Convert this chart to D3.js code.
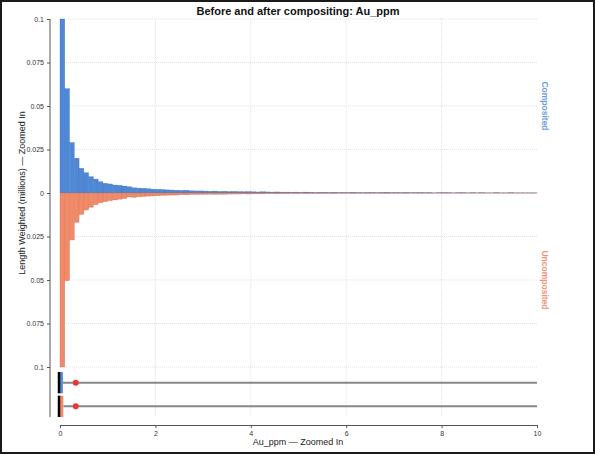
<!DOCTYPE html>
<html>
<head>
<meta charset="utf-8">
<script src="https://cdn.jsdelivr.net/npm/d3@7"></script>
<style>
body { margin: 0; background: #fff; }
text { font-family: "Liberation Sans", Arial, sans-serif; }
</style>
</head>
<body>
<svg width="595" height="454"></svg>
<script>
// bins are 0.1 wide from 0 to 10
var binStart = d3.range(0, 100).map(function(i) { return i / 10; });

var composited = [
	0.14, 0.060, 0.029, 0.020, 0.0142, 0.0117, 0.0094, 0.0080, 0.0065, 0.0056,
	0.0052, 0.0046, 0.0044, 0.0040, 0.0036, 0.0030, 0.0028, 0.0027, 0.0025, 0.0022,
	0.0021, 0.0020, 0.0018, 0.0017, 0.0016, 0.0015, 0.0016, 0.0013, 0.0012, 0.0012,
	0.0011, 0.0010, 0.0011, 0.0009, 0.0010, 0.0008, 0.0009, 0.0008, 0.0007, 0.0008,
	0.0007, 0.0006, 0.0007, 0.0006, 0.0005, 0.0006, 0.0005, 0.0005, 0.0004, 0.0005,
	0.0004, 0.0005, 0.0004, 0.0003, 0.0004, 0.0004, 0.0003, 0.0004, 0.0003, 0.0003,
	0.0003, 0.0004, 0.0003, 0.0002, 0.0003, 0.0003, 0.0002, 0.0003, 0.0004, 0.0002,
	0.0003, 0.0002, 0.0003, 0.0002, 0.0002, 0.0003, 0.0002, 0.0002, 0.0001, 0.0002,
	0.0002, 0.0002, 0.0001, 0.0002, 0.0002, 0.0001, 0.0002, 0.0001, 0.0002, 0.0001,
	0.0001, 0.0002, 0.0001, 0.0001, 0.0002, 0.0001, 0.0001, 0.0001, 0.0001, 0.0001
];

var uncomposited = [
	0.14, 0.0504, 0.027, 0.0169, 0.0123, 0.0098, 0.0082, 0.0067, 0.0056, 0.0050,
	0.0044, 0.0040, 0.0036, 0.0032, 0.0023, 0.0025, 0.0022, 0.0020, 0.0018, 0.0017,
	0.0016, 0.0014, 0.0013, 0.0012, 0.0012, 0.0010, 0.0011, 0.0009, 0.0009, 0.0008,
	0.0008, 0.0007, 0.0008, 0.0007, 0.0007, 0.0006, 0.0006, 0.0006, 0.0005, 0.0006,
	0.0005, 0.0005, 0.0005, 0.0004, 0.0004, 0.0005, 0.0004, 0.0004, 0.0003, 0.0004,
	0.0003, 0.0004, 0.0003, 0.0003, 0.0003, 0.0003, 0.0003, 0.0003, 0.0002, 0.0003,
	0.0002, 0.0003, 0.0002, 0.0002, 0.0003, 0.0002, 0.0002, 0.0002, 0.0003, 0.0002,
	0.0002, 0.0002, 0.0002, 0.0001, 0.0002, 0.0002, 0.0001, 0.0002, 0.0001, 0.0001,
	0.0002, 0.0001, 0.0001, 0.0001, 0.0002, 0.0001, 0.0001, 0.0001, 0.0001, 0.0001,
	0.0001, 0.0001, 0.0001, 0.0001, 0.0001, 0.0001, 0.0001, 0.0001, 0.0001, 0.0001
];

var yTicks = [-0.1, -0.075, -0.05, -0.025, 0, 0.025, 0.05, 0.075, 0.1];
var xTicks = [0, 2, 4, 6, 8, 10];

// box stats: [min, q1, median, q3, max, mean]
var boxNames = ["Composited", "Uncomposited"];
var boxStats = [
	[0, 0, 0, 0.06, 14, 0.33],
	[0, 0, 0, 0.07, 14, 0.33]
];

var svg = d3.select("svg"),
width = +svg.attr("width"),
height = +svg.attr("height");

var blue = "#4f88d6", orange = "#f08a68";

var x = d3.scaleLinear().domain([0, 10]).range([60, 537]);
var y = d3.scaleLinear().domain([-0.1, 0.1]).range([367, 19]);
var yBox = d3.scaleBand().domain(boxNames).range([372, 417]).paddingInner(0.1);

// frame
svg.append("rect")
.attr("x", 1).attr("y", 1)
.attr("width", width - 2).attr("height", height - 2)
.attr("fill", "none").attr("stroke", "#1a1a1a").attr("stroke-width", 2);

// grid
var grid = svg.append("g").attr("stroke", "#e2e2e2").attr("stroke-dasharray", "1,1");
grid.selectAll("line.h").data(yTicks.filter(function(d) { return d != 0; }))
.enter().append("line").attr("class", "h")
.attr("x1", x(0)).attr("x2", x(10))
.attr("y1", function(d) { return y(d); }).attr("y2", function(d) { return y(d); });
grid.selectAll("line.v").data(xTicks.slice(1, 5))
.enter().append("line").attr("class", "v")
.attr("y1", y(0.1)).attr("y2", 417)
.attr("x1", function(d) { return x(d); }).attr("x2", function(d) { return x(d); });

var clip = function(v) { return Math.min(v, 0.1); };

svg.append("g").selectAll("rect")
.data(composited)
.enter().append("rect")
.attr("x", function(d, i) { return x(binStart[i]); })
.attr("width", x(0.1) - x(0))
.attr("y", function(d) { return y(clip(d)); })
.attr("height", function(d) { return y(0) - y(clip(d)); })
.attr("fill", blue)
.attr("stroke", "#3a6fb8").attr("stroke-width", 0.4).attr("stroke-opacity", 0.7);

svg.append("g").selectAll("rect")
.data(uncomposited)
.enter().append("rect")
.attr("x", function(d, i) { return x(binStart[i]); })
.attr("width", x(0.1) - x(0))
.attr("y", y(0))
.attr("height", function(d) { return y(-clip(d)) - y(0); })
.attr("fill", orange)
.attr("stroke", "#d06a4a").attr("stroke-width", 0.4).attr("stroke-opacity", 0.7);

// box plots
var boxColors = [blue, orange];
var box = svg.append("g").selectAll("g")
.data(boxStats)
.enter().append("g")
.attr("transform", function(d, i) { return "translate(0," + yBox(boxNames[i]) + ")"; });

var bh = yBox.bandwidth();

box.append("line")
.attr("x1", function(d) { return x(d[3]); })
.attr("x2", function(d) { return x(Math.min(d[4], 10)); })
.attr("y1", bh / 2).attr("y2", bh / 2)
.attr("stroke", "#888").attr("stroke-width", 2);

box.append("rect")
.attr("x", function(d) { return x(d[1]); })
.attr("width", function(d) { return x(d[3]) - x(d[1]); })
.attr("y", 0).attr("height", bh)
.attr("fill", function(d, i) { return boxColors[i]; });

box.append("line")
.attr("x1", function(d) { return x(d[2]) - 1; })
.attr("x2", function(d) { return x(d[2]) - 1; })
.attr("y1", 0).attr("y2", bh)
.attr("stroke", "#000").attr("stroke-width", 2.5);

box.append("circle")
.attr("cx", function(d) { return x(d[5]); })
.attr("cy", bh / 2)
.attr("r", 3)
.attr("fill", "#e53935");

// axes
var yAxis = svg.append("g")
.attr("transform", "translate(50,0)")
.call(d3.axisLeft(y).tickValues(yTicks).tickSize(3)
	.tickFormat(function(d) { return d3.format("")(Math.abs(d)); }));
yAxis.select(".domain").attr("d", "M0," + y(0.1) + "V417").attr("stroke", "#555");
yAxis.selectAll("text").attr("font-size", 7).attr("fill", "#333");
yAxis.selectAll(".tick line").attr("stroke", "#555");

var xAxis = svg.append("g")
.attr("transform", "translate(0,425)")
.call(d3.axisBottom(x).tickValues(xTicks).tickSize(3).tickSizeOuter(3));
xAxis.select(".domain").attr("stroke", "#555");
xAxis.selectAll("text").attr("font-size", 7).attr("fill", "#333");
xAxis.selectAll(".tick line").attr("stroke", "#555");

// text
svg.append("text")
.attr("x", 298).attr("y", 15)
.attr("text-anchor", "middle")
.attr("font-size", 11).attr("font-weight", "bold").attr("fill", "#111")
.text("Before and after compositing: Au_ppm");

svg.append("text")
.attr("transform", "translate(25,193) rotate(-90)")
.attr("text-anchor", "middle")
.attr("font-size", 9).attr("fill", "#222")
.text("Length Weighted (millions) \u2014 Zoomed In");

svg.append("text")
.attr("x", 298).attr("y", 445)
.attr("text-anchor", "middle")
.attr("font-size", 9).attr("fill", "#222")
.text("Au_ppm \u2014 Zoomed In");

svg.append("text")
.attr("transform", "translate(542,106) rotate(90)")
.attr("text-anchor", "middle")
.attr("font-size", 8.5).attr("font-weight", "bold").attr("fill", "#6d9be0")
.text("Composited");

svg.append("text")
.attr("transform", "translate(542,280) rotate(90)")
.attr("text-anchor", "middle")
.attr("font-size", 8.5).attr("font-weight", "bold").attr("fill", "#f19272")
.text("Uncomposited");
</script>
</body>
</html>
